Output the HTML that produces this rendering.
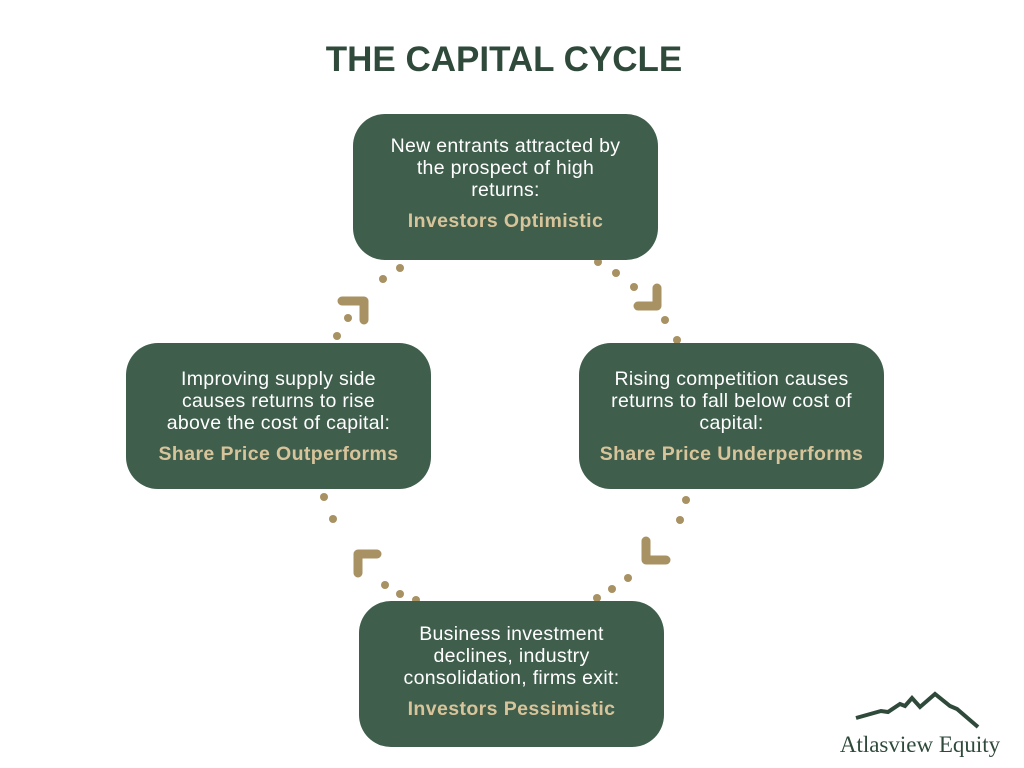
<!DOCTYPE html>
<html><head><style>
body{margin:0;width:1024px;height:768px;background:#fff;position:relative;overflow:hidden;font-family:"Liberation Sans",sans-serif}
.t{position:absolute;left:0;width:1008px;top:40px;text-align:center;font-size:35px;font-weight:bold;color:#2f4a3b;letter-spacing:0px}
.b{position:absolute;width:305px;height:146px;background:#3f5e4c;border-radius:32px;color:#fff;text-align:center;font-size:19.5px;line-height:22px;box-sizing:border-box;padding-top:21px;letter-spacing:0.3px}
.b .g{color:#d8c49a;font-weight:bold;margin-top:9px;display:block;font-size:19.5px;letter-spacing:0.4px}
</style></head><body>
<div class="t">THE CAPITAL CYCLE</div>
<svg width="1024" height="768" style="position:absolute;left:0;top:0">
<g fill="#a89162">
<circle cx="598" cy="262" r="4"/><circle cx="616" cy="273" r="4"/><circle cx="634" cy="287" r="4"/><circle cx="665" cy="320" r="4"/><circle cx="677" cy="340" r="4"/>
<circle cx="400" cy="268" r="4"/><circle cx="383" cy="279" r="4"/><circle cx="348" cy="318" r="4"/><circle cx="337" cy="336" r="4"/>
<circle cx="686" cy="500" r="4"/><circle cx="680" cy="520" r="4"/><circle cx="628" cy="578" r="4"/><circle cx="612" cy="589" r="4"/><circle cx="597" cy="598" r="4"/>
<circle cx="324" cy="497" r="4"/><circle cx="333" cy="519" r="4"/><circle cx="385" cy="585" r="4"/><circle cx="400" cy="594" r="4"/><circle cx="416" cy="600" r="4"/>
</g>
<g fill="none" stroke="#a89162" stroke-width="9" stroke-linecap="round" stroke-linejoin="round">
<polyline points="657,288 657,306 638,306"/>
<polyline points="342,301 364,301 364,320"/>
<polyline points="646,541 646,560 666,560"/>
<polyline points="358,573 358,554 377,554"/>
</g>
<polyline points="856,718 881,711 888,712 900,704 905,706 912,698 920,707 935,694 950,706 957,709 978,727" fill="none" stroke="#2f4a3b" stroke-width="4" stroke-linejoin="miter"/>
<text x="920" y="752" text-anchor="middle" font-family="Liberation Serif,serif" font-size="23" fill="#2f4a3b">Atlasview Equity</text>
</svg>
<div class="b" style="left:353px;top:114px">New entrants attracted by<br>the prospect of high<br>returns:<span class="g">Investors Optimistic</span></div>
<div class="b" style="left:126px;top:343px;padding-top:25px">Improving supply side<br>causes returns to rise<br>above the cost of capital:<span class="g">Share Price Outperforms</span></div>
<div class="b" style="left:579px;top:343px;padding-top:25px">Rising competition causes<br>returns to fall below cost of<br>capital:<span class="g">Share Price Underperforms</span></div>
<div class="b" style="left:359px;top:601px;padding-top:22px">Business investment<br>declines, industry<br>consolidation, firms exit:<span class="g">Investors Pessimistic</span></div>
</body></html>
